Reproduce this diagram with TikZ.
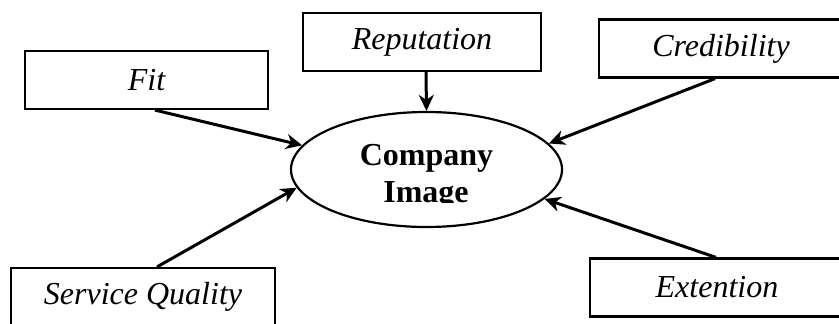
\documentclass[tikz,border=0pt]{standalone}
\usepackage{fontspec}
\setmainfont{Liberation Serif}
\usetikzlibrary{arrows.meta,shapes.geometric}
\tikzset{
  factor/.style={draw, line width=2.2pt, inner sep=0pt, minimum height=58pt,
    font=\fontsize{32}{38}\selectfont\itshape},
  link/.style={line width=3pt, -{Stealth[length=16pt,width=15pt,inset=5pt]}},
  core/.style={draw, ellipse, line width=2.2pt, inner sep=0pt, minimum width=271pt, minimum height=115pt},
  coretext/.style={anchor=base, inner sep=0pt, font=\fontsize{32}{37}\selectfont\bfseries}
}
\begin{document}
\begin{tikzpicture}[x=1pt,y=-1pt]
\clip (0,0) rectangle (839,324);
\fill[white] (0,0) rectangle (839,324);
% boxes
\node[factor, minimum width=243pt] (fit) at (146.5,80) {Fit};
\node[factor, minimum width=238pt] (rep) at (422,42) {Reputation};
\node[factor, minimum width=251pt] (cred) at (724.5,48.5) {};
\node[inner sep=0pt, font=\fontsize{32}{38}\selectfont\itshape] (credt) at (721,48.5) {Credibility};
\node[factor, minimum width=264pt] (serv) at (143,297) {Service Quality};
\node[factor, minimum width=260pt] (ext) at (720,287.5) {};
\node[inner sep=0pt, font=\fontsize{32}{38}\selectfont\itshape] (extt) at (717,287.5) {Extention};
% core
\node[core] (ci) at (426.5,169.5) {};
\node[coretext] (t1) at (426.5,165) {Company};
\begin{scope}
\clip (300,170) rectangle (560,202.5);
\node[coretext] (t2) at (426,202) {Image};
\end{scope}
% connectors
\draw[link] ([xshift=8.5pt]fit.south) -- (ci.169.4);
\draw[link] ([xshift=4pt]rep.south) -- (ci.north);
\draw[link] ([xshift=-9.5pt]cred.south) -- (ci.12.1);
\draw[link] ([xshift=14pt]serv.north) -- (ci.188);
\draw[link] ([xshift=-4pt]ext.north) -- (ci.346.7);
\end{tikzpicture}
\end{document}
